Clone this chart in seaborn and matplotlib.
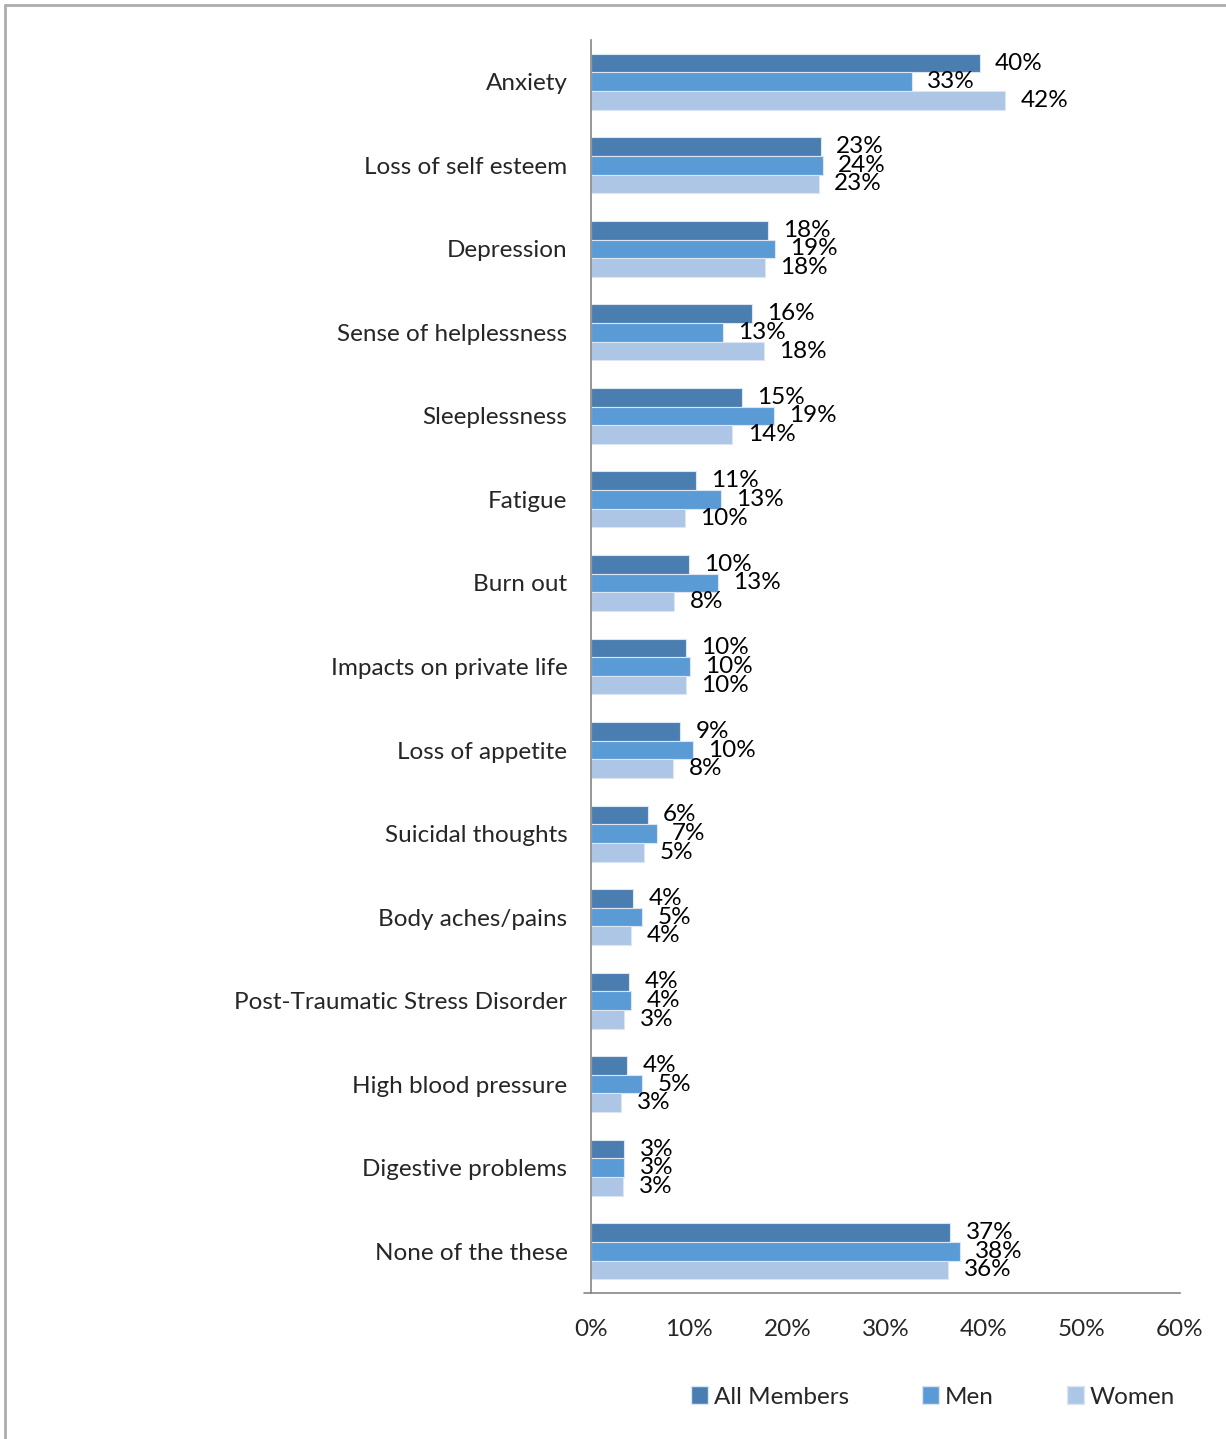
import pandas as pd
import numpy as np
import matplotlib
matplotlib.use("Agg")
import matplotlib.pyplot as plt
from matplotlib.lines import Line2D
from matplotlib.patches import Patch
import seaborn as sns

categories = ["Anxiety", "Loss of self esteem", "Depression", "Sense of helplessness",
              "Sleeplessness", "Fatigue", "Burn out", "Impacts on private life",
              "Loss of appetite", "Suicidal thoughts", "Body aches/pains",
              "Post-Traumatic Stress Disorder", "High blood pressure",
              "Digestive problems", "None of the these"]
series = ["All Members", "Men", "Women"]

all_members = [39.6, 23.4, 18.0, 16.4, 15.4, 10.7, 10.0, 9.7, 9.1, 5.8, 4.3, 3.9, 3.7, 3.4, 36.6]
men = [32.7, 23.6, 18.7, 13.4, 18.6, 13.2, 12.9, 10.1, 10.4, 6.7, 5.2, 4.1, 5.2, 3.4, 37.6]
women = [42.2, 23.2, 17.7, 17.6, 14.4, 9.6, 8.5, 9.7, 8.4, 5.4, 4.1, 3.4, 3.1, 3.3, 36.4]

x_ticks = [0, 10, 20, 30, 40, 50, 60]

colors = ["#4A7EB0", "#5B9BD5", "#ADC6E5"]

rows = []
for name, vals in zip(series, [all_members, men, women]):
    for cat, v in zip(categories, vals):
        rows.append({"category": cat, "series": name, "value": v})
df = pd.DataFrame(rows)

sns.set_style("white")
plt.rcParams["font.family"] = ["Lato", "DejaVu Sans"]

fig = plt.figure(figsize=(12.26, 14.39), dpi=100)
ax = fig.add_axes([591 / 1226, 1 - 1293 / 1439, (1180 - 591) / 1226, (1293 - 40) / 1439])

sns.barplot(data=df, y="category", x="value", hue="series", order=categories,
            hue_order=series, palette=colors, orient="h", width=0.67,
            edgecolor="#DCE6F2", linewidth=0.8, saturation=1, legend=False, ax=ax)

for cont in ax.containers:
    labels = [f"{round(b.get_width()):.0f}%" for b in cont]
    ax.bar_label(cont, labels=labels, padding=11, fontsize=17.5, color="#000000")

ax.set_xlim(0, 60)
ax.set_ylim(len(categories) - 0.5, -0.5)
ax.set_xticks(x_ticks)
ax.set_xticklabels([f"{t}%" for t in x_ticks], fontsize=17.5)
ax.set_yticks(range(len(categories)))
ax.set_yticklabels(categories, fontsize=17.5)
ax.set_yticks(np.arange(-0.5, len(categories)), minor=True)
ax.tick_params(axis="y", which="major", length=0, pad=17)
ax.tick_params(axis="y", which="minor", length=7, width=1.2, color="#868686", direction="out")
ax.tick_params(axis="x", length=9, width=1.2, color="#868686", direction="out", pad=10)
ax.set_xlabel("")
ax.set_ylabel("")
for s in ["top", "right"]:
    ax.spines[s].set_visible(False)
for s in ["left", "bottom"]:
    ax.spines[s].set_color("#868686")
    ax.spines[s].set_linewidth(1.2)
ax.spines["bottom"].set_bounds(0, 60)
ax.add_line(Line2D([-0.7, 0], [len(categories) - 0.5] * 2, color="#868686", lw=1.2, clip_on=False))

handles = [Patch(facecolor=c, edgecolor="#DCE6F2") for c in colors]
fig.legend(handles, series, loc="center", bbox_to_anchor=(933 / 1226, 1 - 1397 / 1439),
           ncol=3, frameon=False, fontsize=17.5, handlelength=0.7, handleheight=0.7,
           handletextpad=0.25, columnspacing=3.0)

# outer frame (top and left edges visible)
fig.add_artist(Line2D([5 / 1226, 1], [1 - 5 / 1439] * 2, transform=fig.transFigure, color="#ADADAD", lw=2))
fig.add_artist(Line2D([5 / 1226] * 2, [0, 1 - 5 / 1439], transform=fig.transFigure, color="#ADADAD", lw=2))

fig.savefig("out.png", dpi=100)
